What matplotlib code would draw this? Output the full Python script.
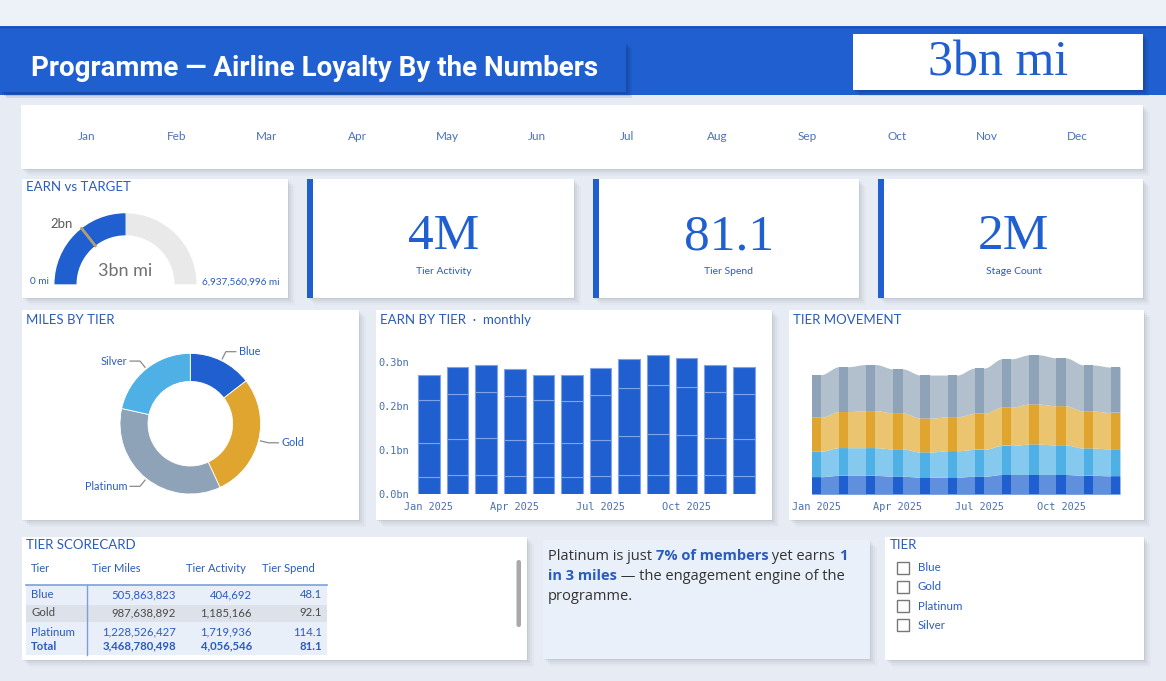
import numpy as np
import matplotlib
matplotlib.use('Agg')
import matplotlib.pyplot as plt
from matplotlib.patches import Rectangle, Wedge, FancyBboxPatch

# ---------------- data ----------------
months = ['Jan', 'Feb', 'Mar', 'Apr', 'May', 'Jun', 'Jul', 'Aug', 'Sep', 'Oct', 'Nov', 'Dec']
month_ticks = ['Jan 2025', 'Apr 2025', 'Jul 2025', 'Oct 2025']
month_tick_idx = [0, 3, 6, 9]

tiers = ['Blue', 'Gold', 'Platinum', 'Silver']
tier_miles = [505863823, 987638892, 1228526427, 746751356]

# monthly earned miles by tier (millions)
m_blue = [40, 43, 43, 41, 39, 39, 41, 45, 45, 45, 43, 42]
m_gold = [77, 82, 84, 82, 77, 77, 82, 87, 91, 89, 84, 83]
m_plat = [97, 102, 105, 100, 98, 95, 103, 110, 112, 109, 105, 103]
m_silver = [58, 63, 63, 62, 57, 60, 61, 66, 69, 67, 62, 61]

earn_total = 3468780498
earn_max = 6937560996
earn_target = 2.0e9

kpi_values = ['4M', '81.1', '2M']
kpi_labels = ['Tier Activity', 'Tier Spend', 'Stage Count']

tbl_header = ['Tier', 'Tier Miles', 'Tier Activity', 'Tier Spend']
tbl_tiers = ['Blue', 'Gold', 'Platinum']
tbl_miles = ['505,863,823', '987,638,892', '1,228,526,427']
tbl_activity = ['404,692', '1,185,166', '1,719,936']
tbl_spend = ['48.1', '92.1', '114.1']
tbl_total = ['Total', '3,468,780,498', '4,056,546', '81.1']

slicer_items = ['Blue', 'Gold', 'Platinum', 'Silver']

# ---------------- style ----------------
W, H = 1166, 681
BLUE = '#1f5fcf'
TXT = '#2a5bbf'
DARK = '#333333'
C_BLUE, C_GOLD, C_PLAT, C_SILV = '#1f5fcf', '#e0a52e', '#8fa3b8', '#4fb0e5'
A_BLUE, A_GOLD, A_PLAT, A_SILV = '#5f8fdd', '#eac46f', '#b2c0ce', '#86c9ee'
SANS = ['Lato', 'DejaVu Sans']
MONO = ['DejaVu Sans Mono']
SERIF = ['Liberation Serif', 'DejaVu Serif']

fig = plt.figure(figsize=(W / 100, H / 100), dpi=100)
fig.patch.set_facecolor('#e7ecf4')
bg = fig.add_axes([0, 0, 1, 1])
bg.set_xlim(0, W)
bg.set_ylim(H, 0)
bg.axis('off')


def ax_px(x0, y0, x1, y1):
    a = fig.add_axes([x0 / W, 1 - y1 / H, (x1 - x0) / W, (y1 - y0) / H])
    a.patch.set_alpha(0)
    return a


def panel(x0, y0, x1, y1, fc='white', shadow=True):
    if shadow:
        for o, al in [(8, 0.04), (6, 0.05), (4, 0.07), (2, 0.10)]:
            bg.add_patch(Rectangle((x0 + o - 1, y0 + o - 1), x1 - x0, y1 - y0,
                                   fc='#5b6475', ec='none', alpha=al, zorder=1))
    bg.add_patch(Rectangle((x0, y0), x1 - x0, y1 - y0, fc=fc, ec='none', zorder=2))


def title(x, y, s, size=9.5):
    bg.text(x, y, s, color=TXT, fontsize=size, family=SANS, va='center', ha='left', zorder=5)


# top strip & header
bg.add_patch(Rectangle((0, 0), W, 26, fc='#edf1f8', ec='none', zorder=0))
bg.add_patch(Rectangle((0, 26), W, 69, fc=BLUE, ec='none', zorder=1))
bg.plot([0, W], [26.5, 26.5], color='#1b4cae', lw=1, zorder=2)
for o, al in [(6, 0.10), (4, 0.14), (2, 0.18)]:
    bg.add_patch(Rectangle((o, 42 + o), 626, 50, fc='#0f2f70', ec='none', alpha=al, zorder=2))
bg.add_patch(Rectangle((0, 42), 626, 50, fc=BLUE, ec='none', zorder=3))
bg.text(31, 68.5, 'Programme \u2014 Airline Loyalty By the Numbers', color='white',
        fontsize=20, fontweight='bold', family=['Roboto', 'DejaVu Sans'],
        va='center', ha='left', zorder=5)
for o, al in [(6, 0.10), (4, 0.14), (2, 0.18)]:
    bg.add_patch(Rectangle((853 + o, 34 + o), 290, 56, fc='#0f2f70', ec='none', alpha=al, zorder=2))
bg.add_patch(Rectangle((853, 34), 290, 56, fc='white', ec='none', zorder=3))
bg.text(998, 63, '3bn mi', color=BLUE, fontsize=36, family=SERIF, va='center', ha='center', zorder=5)

# month strip
panel(21, 105, 1143, 169)
for i, m in enumerate(months):
    bg.text(87 + 90 * i, 137, m, color='#4a72b8', fontsize=8.5, family=SANS, va='center', ha='center', zorder=5)

# gauge panel
panel(22, 179, 288, 298)
title(26, 187, 'EARN vs TARGET')
gx = ax_px(125.5 - 90, 284.3 - 85, 125.5 + 90, 284.3 + 10)
gx.set_xlim(-90, 90)
gx.set_ylim(-10, 85)
gx.axis('off')
R, WD = 71, 22
frac = earn_total / earn_max
gx.add_patch(Wedge((0, 0), R, 0, 180, width=WD, fc='#e9e9e9', ec='none'))
gx.add_patch(Wedge((0, 0), R, 180 - 180 * frac, 180, width=WD, fc=BLUE, ec='none'))
ang = np.deg2rad(180 - 180 * earn_target / earn_max)
gx.plot([(R - WD) * np.cos(ang), R * np.cos(ang)], [(R - WD) * np.sin(ang), R * np.sin(ang)],
        color='#b09f78', lw=2)
bg.text(62, 224, '2bn', color='#5a5a5a', fontsize=9.5, family=SANS, va='center', ha='center', zorder=5)
bg.text(125.5, 271, '3bn mi', color='#707070', fontsize=13, family=SANS, va='center', ha='center', zorder=5)
bg.text(30, 282, '0 mi', color=TXT, fontsize=7.2, family=SANS, va='center', ha='left', zorder=5)
bg.text(279, 282, '6,937,560,996 mi', color=TXT, fontsize=7.2, family=SANS, va='center', ha='right', zorder=5)

# KPI cards
for k, (xb, xr) in enumerate([(307, 574), (593, 859), (878, 1143)]):
    panel(xb, 179, xr, 298)
    bg.add_patch(Rectangle((xb, 179), 6, 119, fc=BLUE, ec='none', zorder=3))
    cx = (xb + 6 + xr) / 2
    bg.text(cx, 237, kpi_values[k], color=BLUE, fontsize=37, family=SERIF, va='center', ha='center', zorder=5)
    bg.text(cx, 271, kpi_labels[k], color=TXT, fontsize=7.5, family=SANS, va='center', ha='center', zorder=5)

# donut
panel(22, 310, 359, 520)
title(26, 320, 'MILES BY TIER')
dcx, dcy = 190.3, 423.7
dx = ax_px(dcx - 100, dcy - 100, dcx + 100, dcy + 100)
dx.axis('off')
ro = 0.703
wedges, _ = dx.pie(tier_miles, colors=[C_BLUE, C_GOLD, C_PLAT, C_SILV], startangle=90, counterclock=False,
                   radius=ro, wedgeprops=dict(width=0.28, edgecolor='white', linewidth=0.6))
dx.set_xlim(-1, 1)
dx.set_ylim(-1, 1)
for wdg, name in zip(wedges, tiers):
    a = np.deg2rad((wdg.theta1 + wdg.theta2) / 2)
    p1 = ((ro + 0.02) * np.cos(a), (ro + 0.02) * np.sin(a))
    p2 = ((ro + 0.10) * np.cos(a), (ro + 0.10) * np.sin(a))
    sgn = 1 if np.cos(a) >= 0 else -1
    p3 = (p2[0] + sgn * 0.10, p2[1])
    dx.plot([p1[0], p2[0], p3[0]], [p1[1], p2[1], p3[1]], color='#8a8a8a', lw=0.9, clip_on=False)
    dx.text(p3[0] + sgn * 0.03, p3[1], name, color=TXT, fontsize=7.8, family=SANS,
            ha='left' if sgn > 0 else 'right', va='center', clip_on=False)

# monthly bar chart
panel(376, 310, 772, 520)
title(380, 320, 'EARN BY TIER  \u00b7  monthly')
bx = ax_px(411.8, 344.7, 760.8, 494.3)
xi = np.arange(len(months))
bottom = np.zeros(len(months))
for ser in [m_blue, m_gold, m_plat, m_silver]:
    v = np.array(ser) / 1000.0
    bx.bar(xi, v, bottom=bottom, width=0.76, color=BLUE, edgecolor='#7fa3e6', linewidth=0.8)
    bottom = bottom + v
bx.set_xlim(-0.6, 11.6)
bx.set_ylim(0, 0.34)
bx.set_yticks([0, 0.1, 0.2, 0.3])
bx.set_yticklabels(['0.0bn', '0.1bn', '0.2bn', '0.3bn'])
bx.set_xticks(month_tick_idx)
bx.set_xticklabels(month_ticks)
bx.tick_params(length=0, labelsize=7.4, labelcolor='#4a6fb5')
bx.tick_params(axis='x', pad=5.5)
bx.tick_params(axis='y', pad=2)
for lab in bx.get_xticklabels() + bx.get_yticklabels():
    lab.set_family(MONO)
for s in bx.spines.values():
    s.set_visible(False)

# tier movement area
panel(789, 310, 1144, 520)
title(793, 320, 'TIER MOVEMENT')
axm = ax_px(802.7, 344.7, 1129.1, 494.3)
layers = [(m_blue, A_BLUE, C_BLUE), (m_silver, A_SILV, C_SILV), (m_gold, A_GOLD, C_GOLD), (m_plat, A_PLAT, C_PLAT)]
hw = 0.17


def smooth_path(vals):
    xs, ys = [], []
    for i in range(len(vals)):
        xs += [i - hw, i + hw]
        ys += [vals[i], vals[i]]
        if i < len(vals) - 1:
            t = np.linspace(0, 1, 20)[1:-1]
            s = t * t * (3 - 2 * t)
            xs += list(i + hw + t * (1 - 2 * hw))
            ys += list(vals[i] + (vals[i + 1] - vals[i]) * s)
    return np.array(xs), np.array(ys)


cum = np.zeros(len(months))
for ser, ac, sc in layers:
    v = np.array(ser) / 1000.0
    xs, lo = smooth_path(cum)
    _, hi = smooth_path(cum + v)
    axm.fill_between(xs, lo, hi, color=ac, lw=0)
    axm.bar(xi, v, bottom=cum, width=2 * hw, color=sc, lw=0)
    cum = cum + v
axm.set_xlim(-0.5, 11.5)
axm.set_ylim(0, 0.34)
axm.set_yticks([])
axm.set_xticks(month_tick_idx)
axm.set_xticklabels(month_ticks)
axm.tick_params(length=0, labelsize=7.4, labelcolor='#4a6fb5', pad=5.5)
for lab in axm.get_xticklabels():
    lab.set_family(MONO)
for s in axm.spines.values():
    s.set_visible(False)

# scorecard table
panel(22, 537, 527, 660)
title(26, 545, 'TIER SCORECARD')
bg.add_patch(Rectangle((26, 585), 301, 70, fc='#e9eff9', ec='none', zorder=3))
bg.add_patch(Rectangle((26, 604.5), 301, 17, fc='#dde2ea', ec='none', zorder=3))
bg.plot([26, 327], [585, 585], color='#7c9fd9', lw=1.2, zorder=4)
bg.plot([86.5, 86.5], [585, 655], color='#7c9fd9', lw=1, zorder=4)
hx = [31, 92, 186, 262]
for s, x in zip(tbl_header, hx):
    bg.text(x, 568, s, color=TXT, fontsize=8, family=SANS, va='center', ha='left', zorder=5)
row_y = [595, 613, 632]
for r in range(3):
    col = '#4a4a4a' if r == 1 else TXT
    y = row_y[r]
    bg.text(31, y, tbl_tiers[r], color=col, fontsize=8.2, family=SANS, va='center', ha='left', zorder=5)
    bg.text(176, y, tbl_miles[r], color=col, fontsize=8.2, family=SANS, va='center', ha='right', zorder=5)
    bg.text(252, y, tbl_activity[r], color=col, fontsize=8.2, family=SANS, va='center', ha='right', zorder=5)
    bg.text(322, y, tbl_spend[r], color=col, fontsize=8.2, family=SANS, va='center', ha='right', zorder=5)
for s, x, ha in zip(tbl_total, [31, 176, 252, 322], ['left', 'right', 'right', 'right']):
    bg.text(x, 646, s, color=TXT, fontsize=8.2, fontweight='bold', family=SANS, va='center', ha=ha, zorder=5)
bg.add_patch(FancyBboxPatch((516.5, 560), 4.5, 67, boxstyle='round,pad=0,rounding_size=2.2',
                            fc='#a9a9a9', ec='none', zorder=4))

# narrative text
panel(543, 540, 870, 659, fc='#e9f0fa')
renderer = fig.canvas.get_renderer()


def rich_line(x, y, pieces, fs=10.5):
    cx = x
    for s, color, weight in pieces:
        t = bg.text(cx, y, s, color=color, fontsize=fs, fontweight=weight, family=['Open Sans', 'DejaVu Sans'],
                    va='baseline', ha='left', zorder=5)
        bb = t.get_window_extent(renderer=renderer)
        cx = bg.transData.inverted().transform((bb.x1, bb.y0))[0]


rich_line(548, 560, [('Platinum is just ', DARK, 'normal'), ('7% of members', TXT, 'bold'),
                     (' yet earns ', DARK, 'normal'), ('1', TXT, 'bold')])
rich_line(548, 580.5, [('in 3 miles', TXT, 'bold'), (' \u2014 the engagement engine of the', DARK, 'normal')])
rich_line(548, 600.5, [('programme.', DARK, 'normal')])

# slicer
panel(885, 537, 1144, 660)
title(890, 545, 'TIER')
for i, s in enumerate(slicer_items):
    y = 567.5 + 19.3 * i
    bg.add_patch(Rectangle((897, y - 6), 12, 12, fc='white', ec='#777777', lw=1, zorder=4))
    bg.text(918, y, s, color=TXT, fontsize=8.3, family=SANS, va='center', ha='left', zorder=5)

fig.savefig('out.png', dpi=100, facecolor=fig.get_facecolor())
